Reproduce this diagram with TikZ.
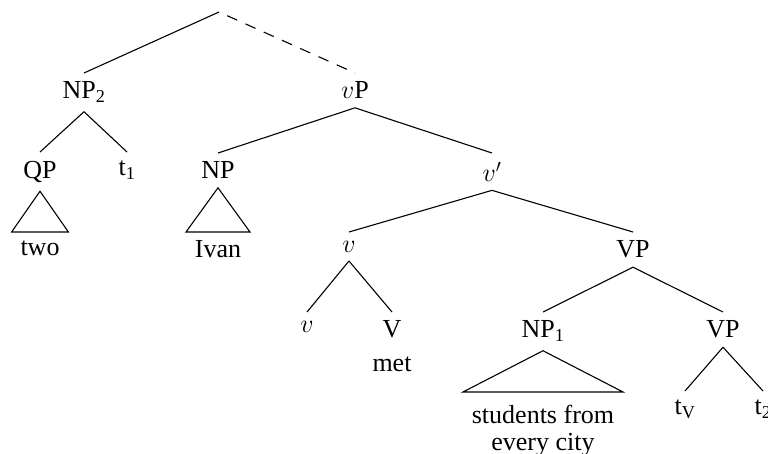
\documentclass[tikz,border=0pt]{standalone}
\usepackage{fix-cm}
\usepackage{fontspec}
\setmainfont{Liberation Serif}
\begin{document}
\begin{tikzpicture}[x=1pt,y=-1pt,
  font=\fontsize{26}{33}\selectfont,
  n/.style={anchor=north,inner sep=8.7pt},
  edge/.style={line width=1.1pt},
  dashedge/.style={line width=1.1pt,dash pattern=on 11pt off 9pt,dash phase=11pt}]
\useasboundingbox (0,0) rectangle (768,453);
\coordinate (root) at (219,12);
\node[n] (np2) at (84,73) {NP\textsubscript{2}};
\node[n] (vp) at (355,73) {$v$P};
\node[n] (qp) at (40,152) {QP};
\node[n] (t1) at (127,152) {t\textsubscript{1}};
\node[n] (two) at (40,232) {two};
\node[n] (np) at (218,153) {NP};
\node[n] (ivan) at (218,232) {Ivan};
\node[n] (vbar) at (492,153) {$v'$};
\node[n] (vv) at (349,232) {$v$};
\node[n] (vpa) at (633,232) {VP};
\node[n] (vsub) at (307,312) {$v$};
\node[n] (V) at (392,312) {V};
\node[anchor=base,inner sep=1pt] (met) at (392,371) {met};
\node[n] (np1) at (543,312) {NP\textsubscript{1}};
\node[n] (vpb) at (723,312) {VP};
\node[n,align=center,inner ysep=12.5pt,font=\fontsize{26}{27}\selectfont] (stud) at (543,392) {students from\\every city};
\node[n] (tv) at (685,391) {t\textsubscript{V}};
\node[n] (t2) at (763,391) {t\textsubscript{2}};
\draw[edge] (root) -- (np2.north);
\draw[dashedge] (root) -- (vp.north);
\draw[edge] (np2.south) -- (qp.north);
\draw[edge] (np2.south) -- (t1.north);
\draw[edge] (qp.south) -- (two.north west) -- (two.north east) -- cycle;
\draw[edge] (vp.south) -- (np.north);
\draw[edge] (vp.south) -- (vbar.north);
\draw[edge] (np.south) -- (ivan.north west) -- (ivan.north east) -- cycle;
\draw[edge] (vbar.south) -- (vv.north);
\draw[edge] (vbar.south) -- (vpa.north);
\draw[edge] (vv.south) -- (vsub.north);
\draw[edge] (vv.south) -- (V.north);
\draw[edge] (vpa.south) -- (np1.north);
\draw[edge] (vpa.south) -- (vpb.north);
\draw[edge] (np1.south) -- (stud.north west) -- (stud.north east) -- cycle;
\draw[edge] (vpb.south) -- (tv.north);
\draw[edge] (vpb.south) -- (t2.north);
\end{tikzpicture}
\end{document}
